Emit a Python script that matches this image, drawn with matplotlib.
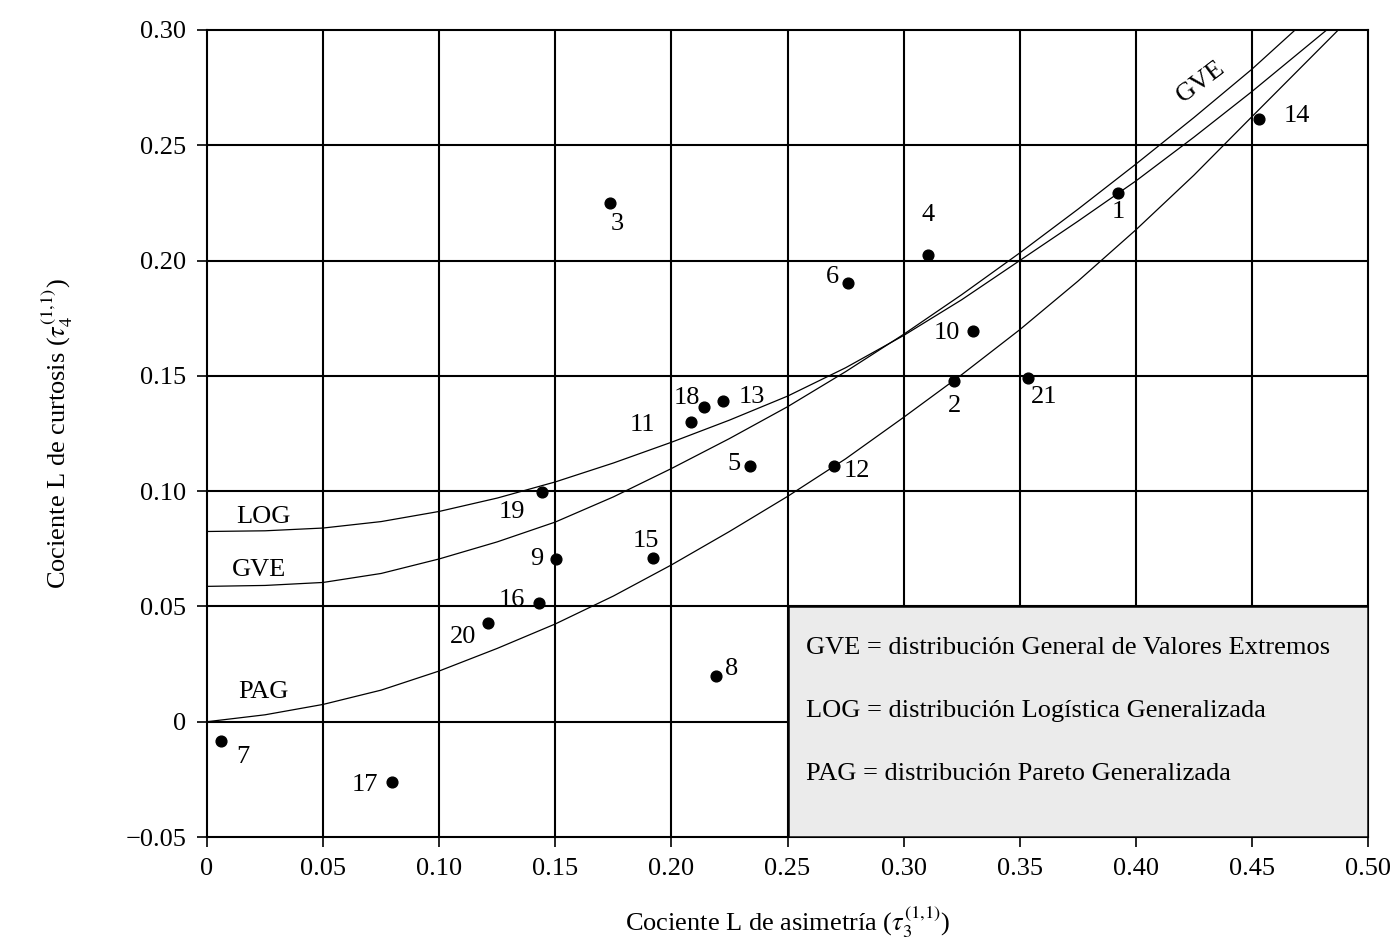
import numpy as np
import matplotlib
matplotlib.use('Agg')
import matplotlib.pyplot as plt
from matplotlib.patches import Rectangle

plt.rcParams['font.family'] = ['Liberation Serif', 'DejaVu Serif']
plt.rcParams['mathtext.fontset'] = 'stix'

# Station points (L-skewness, L-kurtosis)
ids = ['1', '2', '3', '4', '5', '6', '7', '8', '9', '10', '11',
       '12', '13', '14', '15', '16', '17', '18', '19', '20', '21']
tau3 = [0.3923, 0.3217, 0.1736, 0.3103, 0.2339, 0.2762, 0.0062, 0.2190,
        0.1503, 0.3297, 0.2084, 0.2699, 0.2224, 0.4532, 0.1920, 0.1431,
        0.0795, 0.2140, 0.1441, 0.1212, 0.3535]
tau4 = [0.2293, 0.1477, 0.2249, 0.2022, 0.1110, 0.1902, -0.0085, 0.0200,
        0.0705, 0.1694, 0.1299, 0.1110, 0.1392, 0.2614, 0.0708, 0.0515,
        -0.0261, 0.1367, 0.0996, 0.0428, 0.1491]

# Theoretical curves
log_x = [0, 0.025, 0.05, 0.075, 0.10, 0.125, 0.15, 0.175, 0.20, 0.225, 0.25,
         0.275, 0.30, 0.325, 0.35, 0.375, 0.40, 0.425, 0.45, 0.4822]
log_y = [0.0825, 0.0828, 0.0840, 0.0868, 0.0912, 0.0970, 0.1040, 0.1122,
         0.1212, 0.1308, 0.1412, 0.1535, 0.1675, 0.1830, 0.2000, 0.2170,
         0.2345, 0.2535, 0.2733, 0.300]
gve_x = [0, 0.025, 0.05, 0.075, 0.10, 0.125, 0.15, 0.175, 0.20, 0.225, 0.25,
         0.275, 0.30, 0.325, 0.35, 0.375, 0.40, 0.425, 0.45, 0.4686]
gve_y = [0.0587, 0.0591, 0.0604, 0.0643, 0.0706, 0.0780, 0.0866, 0.0975,
         0.1098, 0.1228, 0.1366, 0.1518, 0.1680, 0.1852, 0.2033, 0.2222,
         0.2418, 0.2620, 0.2830, 0.300]
pag_x = [0, 0.025, 0.05, 0.075, 0.10, 0.125, 0.15, 0.175, 0.20, 0.225, 0.25,
         0.275, 0.30, 0.325, 0.35, 0.375, 0.40, 0.425, 0.45, 0.4872]
pag_y = [0.0, 0.0030, 0.0075, 0.0137, 0.0220, 0.0318, 0.0424, 0.0545,
         0.0680, 0.0825, 0.0977, 0.1140, 0.1320, 0.1505, 0.1700, 0.1910,
         0.2133, 0.2370, 0.2624, 0.300]

xticks = [0, 0.05, 0.10, 0.15, 0.20, 0.25, 0.30, 0.35, 0.40, 0.45, 0.50]
xticklabels = ['0', '0.05', '0.10', '0.15', '0.20', '0.25', '0.30',
               '0.35', '0.40', '0.45', '0.50']
yticks = [-0.05, 0, 0.05, 0.10, 0.15, 0.20, 0.25, 0.30]
yticklabels = ['\u22120.05', '0', '0.05', '0.10', '0.15', '0.20', '0.25', '0.30']

legend_lines = ['GVE = distribución General de Valores Extremos',
                'LOG = distribución Logística Generalizada',
                'PAG = distribución Pareto Generalizada']

# label offsets in pixels (dx, dy downward) from each dot
offsets = [(0, 19), (1, 25), (7, 21), (1, -40), (-16, -2), (-16, -6),
           (21, 16), (16, -7), (-19, 0), (-26, 2), (-48, 3), (23, 5),
           (28, -4), (38, -3), (-7, -17), (-27, -3), (-27, 3), (-17, -9),
           (-30, 20), (-25, 14), (16, 19)]

fs = 19

fig = plt.figure(figsize=(13.99, 9.44), dpi=100)
ax = fig.add_axes([207/1399, 1 - 837/944, (1368 - 207)/1399, (837 - 30)/944])
ax.set_xlim(0, 0.5)
ax.set_ylim(-0.05, 0.30)

for v in xticks[1:-1]:
    ax.axvline(v, color='black', lw=1.5, zorder=1)
for v in yticks[1:-1]:
    ax.axhline(v, color='black', lw=1.5, zorder=1)

ax.plot(log_x, log_y, color='black', lw=0.9, zorder=2)
ax.plot(gve_x, gve_y, color='black', lw=0.9, zorder=2)
ax.plot(pag_x, pag_y, color='black', lw=0.9, zorder=2)

ax.add_patch(Rectangle((0.25, -0.05), 0.25, 0.10, facecolor='#ebebeb',
                       edgecolor='black', lw=1.8, zorder=3))
for i, line in enumerate(legend_lines):
    ax.text(0.258, 0.0318 - i*0.0273, line, fontsize=fs, va='center',
            ha='left', zorder=4)

ax.scatter(tau3, tau4, s=60, color='black', zorder=5)
for lab, x, y, (dx, dy) in zip(ids, tau3, tau4, offsets):
    ax.annotate(lab, (x, y), xytext=(dx, -dy), textcoords='offset pixels',
                ha='center', va='center', fontsize=fs, zorder=6)

ax.text(0.0242, 0.0890, 'LOG', fontsize=fs, ha='center', va='center')
ax.text(0.0224, 0.0660, 'GVE', fontsize=fs, ha='center', va='center')
ax.text(0.0245, 0.0128, 'PAG', fontsize=fs, ha='center', va='center')
ax.text(0.428, 0.2775, 'GVE', fontsize=fs, ha='center', va='center',
        rotation=37)

ax.set_xticks(xticks)
ax.set_xticklabels(xticklabels)
ax.set_yticks(yticks)
ax.set_yticklabels(yticklabels)
ax.tick_params(direction='out', length=7, width=1.2, labelsize=fs, pad=8)
for s in ax.spines.values():
    s.set_linewidth(1.5)

ax.set_xlabel('Cociente L de asimetría ($\\tau_3^{(1{,}1)}$)', fontsize=fs,
              labelpad=18)
ax.set_ylabel('Cociente L de curtosis ($\\tau_4^{(1{,}1)}$)', fontsize=fs,
              labelpad=36)

fig.savefig('out.png', dpi=100)
